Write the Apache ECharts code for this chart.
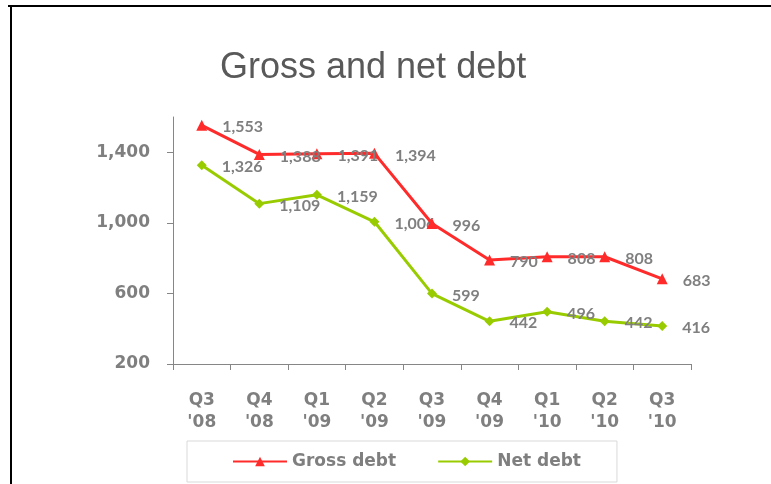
<!DOCTYPE html>
<html>
<head>
<meta charset="utf-8">
<script src="https://cdn.jsdelivr.net/npm/echarts@6/dist/echarts.min.js"></script>
<style>
  html, body { margin: 0; padding: 0; background: #fff; }
  #chart { width: 771px; height: 484px; }
</style>
</head>
<body>
<div id="chart"></div>
<script>
  // quarters on the x axis
  const quarters = ["Q3\n'08", "Q4\n'08", "Q1\n'09", "Q2\n'09", "Q3\n'09", "Q4\n'09", "Q1\n'10", "Q2\n'10", "Q3\n'10"]
  const grossDebt = [1553, 1388, 1391, 1394, 996, 790, 808, 808, 683]
  const netDebt = [1326, 1109, 1159, 1006, 599, 442, 496, 442, 416]
  const yTicks = [200, 600, 1000, 1400]

  const grey = '#7f7f7f'
  const chart = echarts.init(document.getElementById('chart'))

  const dataLabel = {
    show: true,
    position: 'right',
    distance: 15,
    offset: [0, 2],
    color: grey,
    fontFamily: 'Lato',
    fontWeight: 'bold',
    fontSize: 16,
    formatter: (p) => echarts.format.addCommas(p.value),
  }

  chart.setOption({
    animation: false,
    backgroundColor: '#fff',
    title: {
      text: 'Gross and net debt',
      left: 215,
      top: 45,
      textStyle: {
        fontFamily: 'Liberation Sans',
        fontWeight: 'normal',
        fontSize: 36,
        color: '#595959',
      },
    },
    // the black frame on top and left
    graphic: [
      { type: 'rect', shape: { x: 8, y: 5, width: 763, height: 2 }, style: { fill: '#000' } },
      { type: 'rect', shape: { x: 10, y: 5, width: 2, height: 479 }, style: { fill: '#000' } },
    ],
    legend: {
      left: 187,
      top: 441,
      padding: [12, 36, 12, 45],
      itemGap: 41,
      itemWidth: 54,
      itemHeight: 12,
      borderColor: '#d9d9d9',
      borderWidth: 1,
      textStyle: {
        color: grey,
        fontFamily: 'DejaVu Sans',
        fontWeight: 'bold',
        fontSize: 17,
      },
      data: ['Gross debt', 'Net debt'],
    },
    grid: { left: 173, right: 80, top: 117, bottom: 120 },
    xAxis: {
      type: 'category',
      data: quarters,
      boundaryGap: true,
      axisLine: { lineStyle: { color: '#868686', width: 1 } },
      axisTick: { show: true, length: 6, lineStyle: { color: '#868686' } },
      axisLabel: {
        margin: 26,
        color: grey,
        fontFamily: 'DejaVu Sans',
        fontWeight: 'bold',
        fontSize: 17,
        lineHeight: 22,
      },
    },
    yAxis: {
      type: 'value',
      min: 200,
      max: 1600,
      interval: 400,
      splitLine: { show: false },
      axisLine: { show: true, lineStyle: { color: '#868686', width: 1 } },
      axisTick: { show: true, length: 6, customValues: yTicks, lineStyle: { color: '#868686' } },
      axisLabel: {
        margin: 23,
        customValues: yTicks,
        color: grey,
        fontFamily: 'DejaVu Sans',
        fontWeight: 'bold',
        fontSize: 17,
        formatter: (v) => echarts.format.addCommas(v),
      },
    },
    series: [
      {
        name: 'Gross debt',
        type: 'line',
        data: grossDebt,
        symbol: 'triangle',
        symbolSize: 11,
        color: '#ff2b2b',
        lineStyle: { width: 3 },
        label: dataLabel,
        z: 3,
      },
      {
        name: 'Net debt',
        type: 'line',
        data: netDebt,
        symbol: 'diamond',
        symbolSize: 10,
        color: '#99cc00',
        lineStyle: { width: 3 },
        label: dataLabel,
        z: 2,
      },
    ],
  })
</script>
</body>
</html>
